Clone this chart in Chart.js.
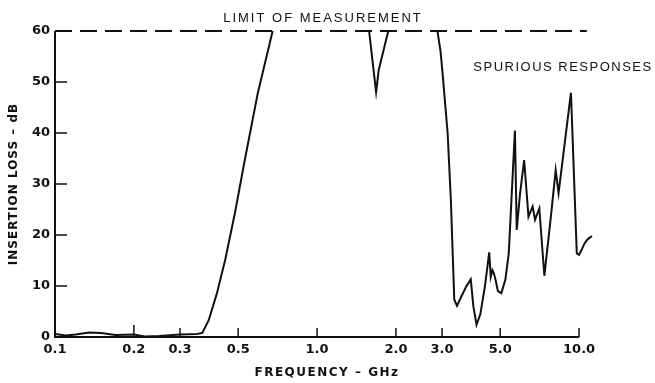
<!DOCTYPE html>
<html>
<head>
<meta charset="utf-8">
<script src="https://cdn.jsdelivr.net/npm/chart.js@4/dist/chart.umd.min.js"></script>
<style>
  body { margin: 0; background: #fff; }
</style>
</head>
<body>
<canvas id="chart" width="655" height="383"></canvas>
<script>
// Insertion loss curve (null = curve sits on the limit line)
var freqGHz = [0.1, 0.11, 0.12, 0.135, 0.15, 0.17, 0.2, 0.22, 0.25, 0.3, 0.349, 0.365, 0.386,
  0.415, 0.446, 0.486, 0.53, 0.594, 0.677,
  1.0,
  1.58, 1.68, 1.72, 1.87,
  2.3,
  2.88, 2.96, 3.01, 3.15, 3.24, 3.34, 3.42, 3.55, 3.71, 3.86, 3.95, 4.06, 4.2, 4.37,
  4.54, 4.6, 4.67, 4.73, 4.8, 4.9, 5.05, 5.23, 5.39, 5.69, 5.78, 5.95, 6.17, 6.41,
  6.65, 6.79, 7.05, 7.37, 7.83, 8.14, 8.35, 9.31, 9.8, 10.0, 10.2, 10.5, 10.8, 11.2];
var lossDB = [0.6, 0.3, 0.5, 0.9, 0.8, 0.4, 0.5, 0.1, 0.2, 0.5, 0.6, 0.8, 3.3,
  8.6, 15.1, 24.3, 34.7, 47.8, 60,
  null,
  60, 48, 52.4, 60,
  null,
  60, 56, 52, 40, 27, 7.3, 6.1, 7.9, 9.9, 11.3, 6, 2.4, 4.5, 9.9,
  16.6, 11.8, 13.1, 12.5, 11.2, 9, 8.6, 11.2, 16.4, 40.5, 21, 28, 34.7, 23.6,
  25.6, 23, 25.2, 12.0, 24.3, 32.7, 28.2, 47.9, 16.4, 16.1, 17.0, 18.4, 19.2, 19.8];

// Limit of measurement
var limitFreq = [0.1, 10.7];
var limitDB = [60, 60];

var xTicks = [0.1, 0.2, 0.3, 0.5, 1.0, 2.0, 3.0, 5.0, 10.0];
var yTicks = [0, 10, 20, 30, 40, 50, 60];

var curve = freqGHz.map(function(f, i) { return { x: f, y: lossDB[i] }; });
var limit = limitFreq.map(function(f, i) { return { x: f, y: limitDB[i] }; });

var ink = '#111';

// draws the axis lines, inward ticks and the lettering
var axesPlugin = {
  id: 'axes',
  afterDatasetsDraw: function(chart) {
    var ctx = chart.ctx, x = chart.scales.x, y = chart.scales.y;
    var x0 = x.getPixelForValue(0.1), x1 = x.getPixelForValue(10);
    var y0 = y.getPixelForValue(0), yTop = y.getPixelForValue(60);
    ctx.save();
    ctx.strokeStyle = ink;
    ctx.lineWidth = 2;
    ctx.beginPath();
    ctx.moveTo(x0, yTop);
    ctx.lineTo(x0, y0);
    ctx.lineTo(x1, y0);
    ctx.stroke();

    ctx.lineWidth = 1.5;
    ctx.beginPath();
    yTicks.forEach(function(v) {
      if (v > 0 && v < 60) {
        var p = y.getPixelForValue(v);
        ctx.moveTo(x0, p);
        ctx.lineTo(x0 + 12, p);
      }
    });
    xTicks.forEach(function(v) {
      if (v > 0.1) {
        var p = x.getPixelForValue(v);
        ctx.moveTo(p, y0);
        ctx.lineTo(p, y0 - (v === 0.2 ? 12 : 9));
      }
    });
    ctx.stroke();

    ctx.fillStyle = ink;
    ctx.textAlign = 'center';
    ctx.textBaseline = 'middle';

    ctx.font = '13px "Liberation Sans"';
    ctx.letterSpacing = '2px';
    ctx.fillText('LIMIT OF MEASUREMENT', 323, 18);
    ctx.letterSpacing = '1.5px';
    ctx.fillText('SPURIOUS RESPONSES', 563, 67);

    ctx.font = 'bold 12px "DejaVu Sans"';
    ctx.letterSpacing = '1.5px';
    ctx.fillText('FREQUENCY \u2013 GHz', 327, 373);

    ctx.save();
    ctx.translate(14, 184);
    ctx.rotate(-Math.PI / 2);
    ctx.letterSpacing = '1px';
    ctx.fillText('INSERTION LOSS \u2013 dB', 0, 0);
    ctx.restore();

    ctx.restore();
  }
};

new Chart(document.getElementById('chart'), {
  type: 'line',
  data: {
    datasets: [{
      data: curve,
      borderColor: ink,
      borderWidth: 2,
      pointRadius: 0,
      tension: 0,
      spanGaps: false,
      clip: 6
    }, {
      data: limit,
      borderColor: ink,
      borderWidth: 2,
      borderDash: [17, 8],
      pointRadius: 0,
      clip: 6
    }]
  },
  options: {
    responsive: false,
    animation: false,
    layout: { padding: { top: 31, right: 62, bottom: 0, left: 0 } },
    plugins: { legend: { display: false }, tooltip: { enabled: false } },
    scales: {
      x: {
        type: 'logarithmic',
        min: 0.1,
        max: 11.3,
        grid: { display: false, drawTicks: false },
        border: { display: false },
        afterBuildTicks: function(scale) {
          scale.ticks = xTicks.map(function(v) { return { value: v }; });
        },
        afterFit: function(scale) { scale.height = 46; },
        ticks: {
          autoSkip: false,
          maxRotation: 0,
          padding: 5,
          color: ink,
          font: { family: 'DejaVu Sans', weight: 'bold', size: 13 },
          callback: function(v) { return Number(v).toFixed(1); }
        }
      },
      y: {
        min: 0,
        max: 60,
        grid: { display: false, drawTicks: false },
        border: { display: false },
        afterBuildTicks: function(scale) {
          scale.ticks = yTicks.map(function(v) { return { value: v }; });
        },
        afterFit: function(scale) { scale.width = 55; },
        ticks: {
          padding: 5,
          color: ink,
          font: { family: 'DejaVu Sans', weight: 'bold', size: 13 }
        }
      }
    }
  },
  plugins: [axesPlugin]
});
</script>
</body>
</html>
